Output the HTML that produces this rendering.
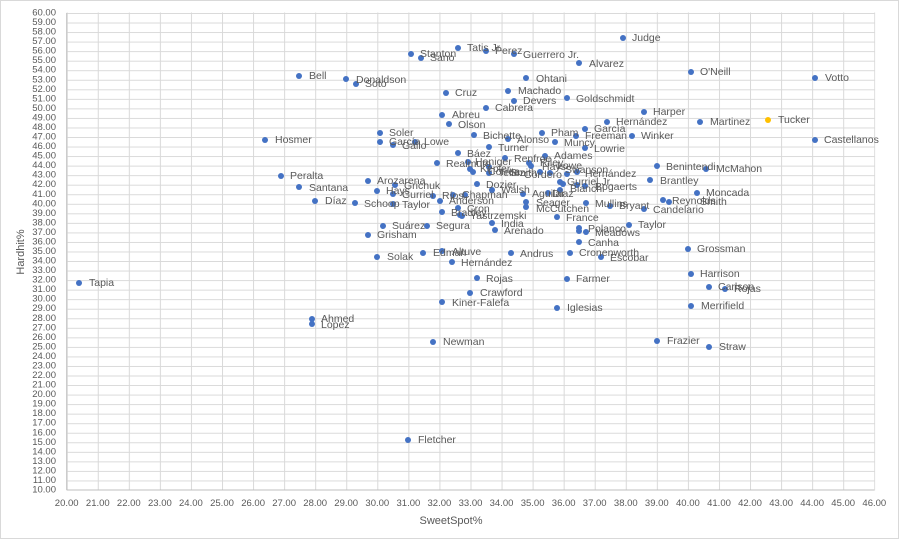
<!DOCTYPE html>
<html><head><meta charset="utf-8"><style>
html,body{margin:0;padding:0;background:#fff;}
svg{display:block;font-family:"Liberation Sans",sans-serif;}
.t{font-size:9.5px;fill:#595959;}
.l{font-size:10.5px;fill:#595959;}
.a{font-size:11px;fill:#595959;}
</style></head><body>
<svg width="900" height="541" viewBox="0 0 900 541" xmlns="http://www.w3.org/2000/svg">
<defs>
<pattern id="gv" x="66.7" y="0" width="31.06" height="541" patternUnits="userSpaceOnUse"><line x1="0.5" y1="0" x2="0.5" y2="541" stroke="#d9d9d9" stroke-width="1"/></pattern>
<pattern id="gh" x="0" y="13" width="900" height="9.54" patternUnits="userSpaceOnUse"><line x1="0" y1="0.5" x2="900" y2="0.5" stroke="#d9d9d9" stroke-width="1"/></pattern>
</defs>
<rect x="0.5" y="0.5" width="898" height="538" fill="#fff" stroke="#d9d9d9"/>
<rect x="66.7" y="12.5" width="808" height="478" fill="url(#gh)"/>
<rect x="66.2" y="12.5" width="809" height="478" fill="url(#gv)"/>
<line x1="66.7" y1="490" x2="874.3" y2="490" stroke="#bfbfbf"/>
<line x1="66.7" y1="13" x2="66.7" y2="490" stroke="#bfbfbf"/>
<g class="t" text-anchor="end" dominant-baseline="central">
<text x="56" y="13">60.00</text><text x="56" y="22.5">59.00</text><text x="56" y="32.1">58.00</text><text x="56" y="41.6">57.00</text><text x="56" y="51.2">56.00</text><text x="56" y="60.7">55.00</text><text x="56" y="70.2">54.00</text><text x="56" y="79.8">53.00</text><text x="56" y="89.3">52.00</text><text x="56" y="98.9">51.00</text><text x="56" y="108.4">50.00</text><text x="56" y="117.9">49.00</text><text x="56" y="127.5">48.00</text><text x="56" y="137">47.00</text><text x="56" y="146.6">46.00</text><text x="56" y="156.1">45.00</text><text x="56" y="165.6">44.00</text><text x="56" y="175.2">43.00</text><text x="56" y="184.7">42.00</text><text x="56" y="194.3">41.00</text><text x="56" y="203.8">40.00</text><text x="56" y="213.3">39.00</text><text x="56" y="222.9">38.00</text><text x="56" y="232.4">37.00</text><text x="56" y="242">36.00</text><text x="56" y="251.5">35.00</text><text x="56" y="261">34.00</text><text x="56" y="270.6">33.00</text><text x="56" y="280.1">32.00</text><text x="56" y="289.7">31.00</text><text x="56" y="299.2">30.00</text><text x="56" y="308.7">29.00</text><text x="56" y="318.3">28.00</text><text x="56" y="327.8">27.00</text><text x="56" y="337.4">26.00</text><text x="56" y="346.9">25.00</text><text x="56" y="356.4">24.00</text><text x="56" y="366">23.00</text><text x="56" y="375.5">22.00</text><text x="56" y="385.1">21.00</text><text x="56" y="394.6">20.00</text><text x="56" y="404.1">19.00</text><text x="56" y="413.7">18.00</text><text x="56" y="423.2">17.00</text><text x="56" y="432.8">16.00</text><text x="56" y="442.3">15.00</text><text x="56" y="451.8">14.00</text><text x="56" y="461.4">13.00</text><text x="56" y="470.9">12.00</text><text x="56" y="480.5">11.00</text><text x="56" y="490">10.00</text>
</g>
<g class="t" text-anchor="middle">
<text x="66.7" y="506">20.00</text><text x="97.8" y="506">21.00</text><text x="128.8" y="506">22.00</text><text x="159.9" y="506">23.00</text><text x="190.9" y="506">24.00</text><text x="222" y="506">25.00</text><text x="253.1" y="506">26.00</text><text x="284.1" y="506">27.00</text><text x="315.2" y="506">28.00</text><text x="346.2" y="506">29.00</text><text x="377.3" y="506">30.00</text><text x="408.4" y="506">31.00</text><text x="439.4" y="506">32.00</text><text x="470.5" y="506">33.00</text><text x="501.5" y="506">34.00</text><text x="532.6" y="506">35.00</text><text x="563.7" y="506">36.00</text><text x="594.7" y="506">37.00</text><text x="625.8" y="506">38.00</text><text x="656.8" y="506">39.00</text><text x="687.9" y="506">40.00</text><text x="719" y="506">41.00</text><text x="750" y="506">42.00</text><text x="781.1" y="506">43.00</text><text x="812.1" y="506">44.00</text><text x="843.2" y="506">45.00</text><text x="874.3" y="506">46.00</text>
</g>
<text class="a" x="451" y="524" text-anchor="middle">SweetSpot%</text>
<text class="a" x="0" y="0" text-anchor="middle" transform="translate(24,252) rotate(-90)">Hardhit%</text>
<g fill="#4472c4">
<circle cx="623" cy="38" r="3"/><circle cx="458" cy="48" r="3"/><circle cx="486" cy="51" r="3"/><circle cx="514" cy="54" r="3"/><circle cx="411" cy="54" r="3"/><circle cx="421" cy="58" r="3"/><circle cx="579" cy="63" r="3"/><circle cx="691" cy="72" r="3"/><circle cx="815" cy="78" r="3"/><circle cx="526" cy="78" r="3"/><circle cx="299" cy="76" r="3"/><circle cx="346" cy="79" r="3"/><circle cx="356" cy="84" r="3"/><circle cx="446" cy="93" r="3"/><circle cx="508" cy="91" r="3"/><circle cx="514" cy="101" r="3"/><circle cx="567" cy="98" r="3"/><circle cx="486" cy="108" r="3"/><circle cx="644" cy="112" r="3"/><circle cx="442" cy="115" r="3"/><circle cx="449" cy="124" r="3"/><circle cx="607" cy="122" r="3"/><circle cx="700" cy="122" r="3"/><circle cx="585" cy="129" r="3"/><circle cx="474" cy="135" r="3"/><circle cx="508" cy="139" r="3"/><circle cx="542" cy="133" r="3"/><circle cx="576" cy="136" r="3"/><circle cx="632" cy="136" r="3"/><circle cx="815" cy="140" r="3"/><circle cx="380" cy="133" r="3"/><circle cx="380" cy="142" r="3"/><circle cx="415" cy="142" r="3"/><circle cx="393" cy="145" r="3"/><circle cx="265" cy="140" r="3"/><circle cx="489" cy="147" r="3"/><circle cx="555" cy="142" r="3"/><circle cx="585" cy="148" r="3"/><circle cx="458" cy="153" r="3"/><circle cx="545" cy="156" r="3"/><circle cx="437" cy="163" r="3"/><circle cx="468" cy="162" r="3"/><circle cx="505" cy="158" r="3"/><circle cx="470" cy="169" r="3"/><circle cx="473" cy="172" r="3"/><circle cx="489" cy="167" r="3"/><circle cx="489" cy="173" r="3"/><circle cx="529" cy="163" r="3"/><circle cx="531" cy="166" r="3"/><circle cx="540" cy="172" r="3"/><circle cx="550" cy="173" r="3"/><circle cx="567" cy="174" r="3"/><circle cx="577" cy="172" r="3"/><circle cx="560" cy="182" r="3"/><circle cx="563" cy="184" r="3"/><circle cx="577" cy="185" r="3"/><circle cx="585" cy="186" r="3"/><circle cx="657" cy="166" r="3"/><circle cx="706" cy="169" r="3"/><circle cx="281" cy="176" r="3"/><circle cx="650" cy="180" r="3"/><circle cx="368" cy="181" r="3"/><circle cx="395" cy="185" r="3"/><circle cx="299" cy="187" r="3"/><circle cx="377" cy="191" r="3"/><circle cx="393" cy="194" r="3"/><circle cx="433" cy="196" r="3"/><circle cx="453" cy="195" r="3"/><circle cx="465" cy="195" r="3"/><circle cx="477" cy="184" r="3"/><circle cx="492" cy="190" r="3"/><circle cx="523" cy="194" r="3"/><circle cx="548" cy="193" r="3"/><circle cx="560" cy="190" r="3"/><circle cx="697" cy="193" r="3"/><circle cx="315" cy="201" r="3"/><circle cx="355" cy="203" r="3"/><circle cx="393" cy="204" r="3"/><circle cx="440" cy="201" r="3"/><circle cx="526" cy="202" r="3"/><circle cx="526" cy="207" r="3"/><circle cx="586" cy="203" r="3"/><circle cx="610" cy="206" r="3"/><circle cx="644" cy="209" r="3"/><circle cx="663" cy="200" r="3"/><circle cx="669" cy="202" r="3"/><circle cx="442" cy="212" r="3"/><circle cx="458" cy="208" r="3"/><circle cx="460" cy="215" r="3"/><circle cx="462" cy="216" r="3"/><circle cx="557" cy="217" r="3"/><circle cx="383" cy="226" r="3"/><circle cx="427" cy="226" r="3"/><circle cx="492" cy="223" r="3"/><circle cx="495" cy="230" r="3"/><circle cx="579" cy="228" r="3"/><circle cx="579" cy="231" r="3"/><circle cx="586" cy="232" r="3"/><circle cx="629" cy="225" r="3"/><circle cx="368" cy="235" r="3"/><circle cx="579" cy="242" r="3"/><circle cx="688" cy="249" r="3"/><circle cx="377" cy="257" r="3"/><circle cx="423" cy="253" r="3"/><circle cx="442" cy="251" r="3"/><circle cx="511" cy="253" r="3"/><circle cx="570" cy="253" r="3"/><circle cx="601" cy="257" r="3"/><circle cx="452" cy="262" r="3"/><circle cx="691" cy="274" r="3"/><circle cx="477" cy="278" r="3"/><circle cx="567" cy="279" r="3"/><circle cx="709" cy="287" r="3"/><circle cx="725" cy="289" r="3"/><circle cx="470" cy="293" r="3"/><circle cx="442" cy="302" r="3"/><circle cx="557" cy="308" r="3"/><circle cx="691" cy="306" r="3"/><circle cx="79" cy="283" r="3"/><circle cx="312" cy="319" r="3"/><circle cx="312" cy="324" r="3"/><circle cx="433" cy="342" r="3"/><circle cx="657" cy="341" r="3"/><circle cx="709" cy="347" r="3"/><circle cx="408" cy="440" r="3"/>
</g>
<circle cx="768" cy="120" r="3" fill="#ffc000"/>
<g class="l" dominant-baseline="central">
<text x="632" y="38">Judge</text><text x="467" y="48">Tatis Jr.</text><text x="495" y="51">Perez</text><text x="523" y="55">Guerrero Jr.</text><text x="420" y="54">Stanton</text><text x="430" y="58">Sano</text><text x="589" y="64">Alvarez</text><text x="700" y="72">O'Neill</text><text x="825" y="78">Votto</text><text x="536" y="79">Ohtani</text><text x="309" y="76">Bell</text><text x="356" y="80">Donaldson</text><text x="365" y="84">Soto</text><text x="455" y="93">Cruz</text><text x="518" y="91">Machado</text><text x="523" y="101">Devers</text><text x="576" y="99">Goldschmidt</text><text x="495" y="108">Cabrera</text><text x="653" y="112">Harper</text><text x="452" y="115">Abreu</text><text x="458" y="125">Olson</text><text x="616" y="122">Hernández</text><text x="710" y="122">Martinez</text><text x="778" y="120">Tucker</text><text x="594" y="129">García</text><text x="483" y="136">Bichette</text><text x="517" y="140">Alonso</text><text x="551" y="133">Pham</text><text x="585" y="136">Freeman</text><text x="641" y="136">Winker</text><text x="824" y="140">Castellanos</text><text x="389" y="133">Soler</text><text x="389" y="142">García</text><text x="424" y="142">Lowe</text><text x="402" y="146">Gallo</text><text x="275" y="140">Hosmer</text><text x="498" y="148">Turner</text><text x="564" y="143">Muncy</text><text x="594" y="149">Lowrie</text><text x="467" y="154">Báez</text><text x="554" y="156">Adames</text><text x="446" y="164">Realmuto</text><text x="475" y="162">Haniger</text><text x="514" y="159">Renfroe</text><text x="480" y="169">Kepler</text><text x="488" y="172">Correa</text><text x="498" y="173">Tellez</text><text x="510" y="173">Smith</text><text x="540" y="163">Riley</text><text x="542" y="167">Hays</text><text x="557" y="166">Lowe</text><text x="565" y="170">Swanson</text><text x="524" y="175">Cordero</text><text x="585" y="174">Hernández</text><text x="567" y="182">Gurriel Jr.</text><text x="595" y="187">Bogaerts</text><text x="570" y="189">Bianchi</text><text x="666" y="167">Benintendi</text><text x="716" y="169">McMahon</text><text x="290" y="176">Peralta</text><text x="660" y="181">Brantley</text><text x="377" y="181">Arozarena</text><text x="404" y="186">Grichuk</text><text x="309" y="188">Santana</text><text x="386" y="191">Hays</text><text x="402" y="195">Gurriel</text><text x="442" y="196">Ríos</text><text x="462" y="195">Chapman</text><text x="486" y="185">Dozier</text><text x="501" y="190">Walsh</text><text x="532" y="194">Aguilar</text><text x="552" y="194">Díaz</text><text x="706" y="193">Moncada</text><text x="325" y="201">Díaz</text><text x="364" y="204">Schoop</text><text x="402" y="205">Taylor</text><text x="449" y="201">Anderson</text><text x="536" y="203">Seager</text><text x="536" y="209">McCutchen</text><text x="595" y="204">Mullins</text><text x="619" y="206">Bryant</text><text x="653" y="210">Candelario</text><text x="672" y="201">Reynolds</text><text x="700" y="202">Smith</text><text x="467" y="209">Cron</text><text x="451" y="213">Bradley</text><text x="470" y="216">Yastrzemski</text><text x="566" y="218">France</text><text x="392" y="226">Suárez</text><text x="436" y="226">Segura</text><text x="501" y="224">India</text><text x="504" y="231">Arenado</text><text x="588" y="229">Polanco</text><text x="595" y="233">Meadows</text><text x="638" y="225">Taylor</text><text x="377" y="235">Grisham</text><text x="588" y="243">Canha</text><text x="697" y="249">Grossman</text><text x="387" y="257">Solak</text><text x="433" y="253">Edman</text><text x="452" y="252">Altuve</text><text x="520" y="254">Andrus</text><text x="579" y="253">Cronenworth</text><text x="610" y="258">Escobar</text><text x="461" y="263">Hernández</text><text x="700" y="274">Harrison</text><text x="486" y="279">Rojas</text><text x="576" y="279">Farmer</text><text x="718" y="287">Carlson</text><text x="734" y="289">Rojas</text><text x="480" y="293">Crawford</text><text x="452" y="303">Kiner-Falefa</text><text x="567" y="308">Iglesias</text><text x="701" y="306">Merrifield</text><text x="89" y="283">Tapia</text><text x="321" y="319">Ahmed</text><text x="321" y="325">Lopez</text><text x="443" y="342">Newman</text><text x="667" y="341">Frazier</text><text x="719" y="347">Straw</text><text x="418" y="440">Fletcher</text>
</g>
</svg>
</body></html>
